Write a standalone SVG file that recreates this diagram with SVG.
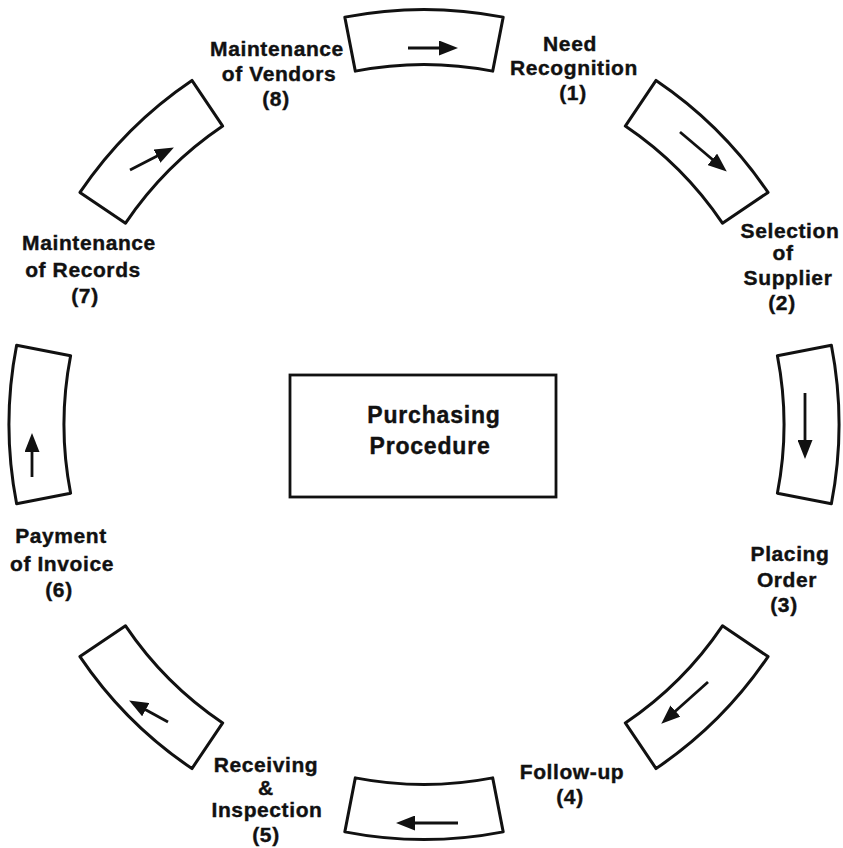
<svg xmlns="http://www.w3.org/2000/svg" width="843" height="848" viewBox="0 0 843 848">
<style>
  .seg { fill: #ffffff; stroke: #111111; stroke-width: 3; stroke-linejoin: round; }
  .arr { stroke: #111111; stroke-width: 2.8; fill: none; marker-end: url(#ah); }
  .lbl { font-family: "Liberation Sans", Arial, sans-serif; font-weight: bold; font-size: 21px; letter-spacing: 0.6px; fill: #111111; stroke: #111111; stroke-width: 0.4; text-anchor: middle; }
  .ctr { font-family: "Liberation Sans", Arial, sans-serif; font-weight: bold; font-size: 23px; letter-spacing: 0.8px; fill: #111111; stroke: #111111; stroke-width: 0.4; text-anchor: middle; }
  .box { fill: #ffffff; stroke: #111111; stroke-width: 2.8; }
</style>
<defs>
  <marker id="ah" markerWidth="19" markerHeight="15" refX="10" refY="7.5" orient="auto" markerUnits="userSpaceOnUse">
    <path d="M0,0 L19,7.5 L0,15 Z" fill="#111111"/>
  </marker>
</defs>
<rect x="0" y="0" width="843" height="848" fill="#ffffff"/>

<g id="center">
  <rect class="box" x="290" y="375" width="266" height="122"/>
  <text class="ctr" x="434" y="423">Purchasing</text>
  <text class="ctr" x="430" y="454">Procedure</text>
</g>

<g id="step1">
  <path class="seg" d="M344.81,17.12 A415,415 0 0 1 503.19,17.12 L492.69,71.11 A360,360 0 0 0 355.31,71.11 Z"/>
  <text class="lbl" x="570" y="51">Need</text>
  <text class="lbl" x="574" y="75">Recognition</text>
  <text class="lbl" x="573" y="100">(1)</text>
</g>

<g id="step2">
  <path class="seg" d="M656.06,80.45 A415,415 0 0 1 768.05,192.44 L722.45,223.19 A360,360 0 0 0 625.31,126.05 Z"/>
  <text class="lbl" x="790" y="238">Selection</text>
  <text class="lbl" x="783" y="260">of</text>
  <text class="lbl" x="788" y="285">Supplier</text>
  <text class="lbl" x="782" y="310">(2)</text>
</g>

<g id="step3">
  <path class="seg" d="M831.38,345.31 A415,415 0 0 1 831.38,503.69 L777.39,493.19 A360,360 0 0 0 777.39,355.81 Z"/>
  <text class="lbl" x="790" y="561">Placing</text>
  <text class="lbl" x="787" y="587">Order</text>
  <text class="lbl" x="784" y="612">(3)</text>
</g>

<g id="step4">
  <path class="seg" d="M768.05,656.56 A415,415 0 0 1 656.06,768.55 L625.31,722.95 A360,360 0 0 0 722.45,625.81 Z"/>
  <text class="lbl" x="572" y="779">Follow-up</text>
  <text class="lbl" x="570" y="804">(4)</text>
</g>

<g id="step5">
  <path class="seg" d="M503.19,831.88 A415,415 0 0 1 344.81,831.88 L355.31,777.89 A360,360 0 0 0 492.69,777.89 Z"/>
  <text class="lbl" x="266" y="772">Receiving</text>
  <text class="lbl" x="266" y="794.5">&amp;</text>
  <text class="lbl" x="267" y="817">Inspection</text>
  <text class="lbl" x="266" y="842">(5)</text>
</g>

<g id="step6">
  <path class="seg" d="M191.94,768.55 A415,415 0 0 1 79.95,656.56 L125.55,625.81 A360,360 0 0 0 222.69,722.95 Z"/>
  <text class="lbl" x="61" y="543">Payment</text>
  <text class="lbl" x="62" y="571">of Invoice</text>
  <text class="lbl" x="59" y="597">(6)</text>
</g>

<g id="step7">
  <path class="seg" d="M16.62,503.69 A415,415 0 0 1 16.62,345.31 L70.61,355.81 A360,360 0 0 0 70.61,493.19 Z"/>
  <text class="lbl" x="89" y="250">Maintenance</text>
  <text class="lbl" x="83" y="277">of Records</text>
  <text class="lbl" x="85" y="303">(7)</text>
</g>

<g id="step8">
  <path class="seg" d="M79.95,192.44 A415,415 0 0 1 191.94,80.45 L222.69,126.05 A360,360 0 0 0 125.55,223.19 Z"/>
  <text class="lbl" x="277" y="56">Maintenance</text>
  <text class="lbl" x="279" y="81">of Vendors</text>
  <text class="lbl" x="276" y="106">(8)</text>
</g>

<g id="connectors">
  <line class="arr" x1="408" y1="48" x2="449" y2="48"/>
  <line class="arr" x1="680" y1="132" x2="719.9" y2="165.8"/>
  <line class="arr" x1="805" y1="393" x2="805" y2="450"/>
  <line class="arr" x1="708" y1="682" x2="668" y2="717.7"/>
  <line class="arr" x1="458" y1="823" x2="405" y2="823"/>
  <line class="arr" x1="168" y1="722" x2="137" y2="704.9"/>
  <line class="arr" x1="32" y1="477" x2="32" y2="442"/>
  <line class="arr" x1="130" y1="170" x2="165.9" y2="151.6"/>
</g>
</svg>
